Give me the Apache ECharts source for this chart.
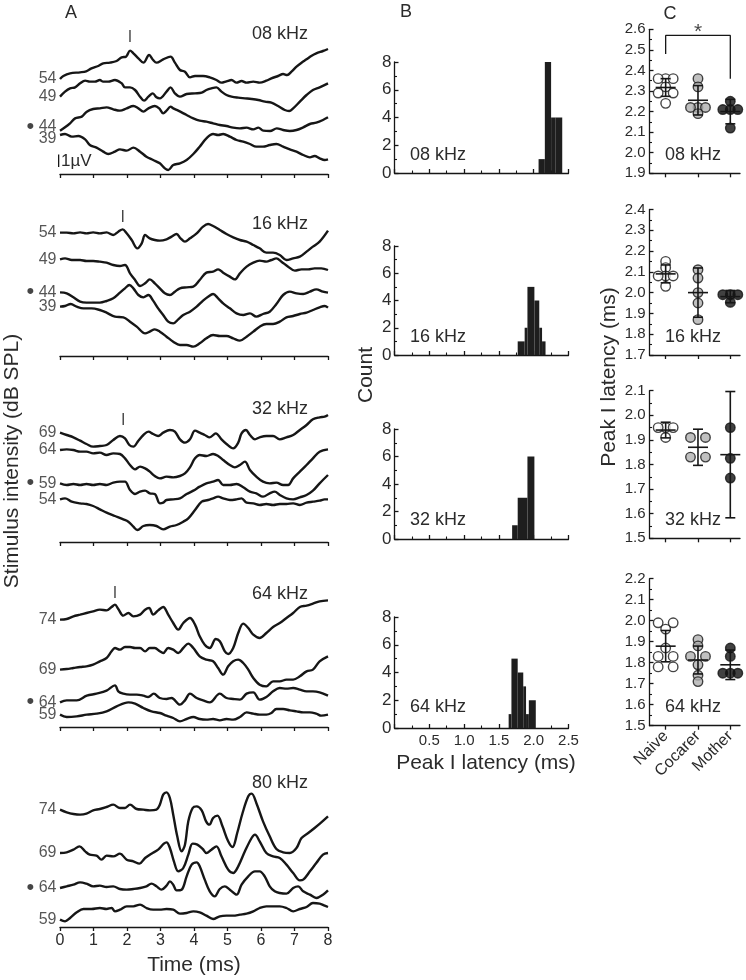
<!DOCTYPE html>
<html><head><meta charset="utf-8">
<script src="https://cdn.jsdelivr.net/npm/echarts@6/dist/echarts.min.js"></script>
<style>html,body{margin:0;padding:0;background:#fff}#c{width:746px;height:980px}</style>
</head><body><div id="c"></div><script>
const FONT = '"Liberation Sans", Arial, Helvetica, sans-serif';
const INK = '#161616';
const TXT = '#2b2b2b';

// ---------------- Panel A: ABR traces, [time (ms), amplitude units], 37.5 units = 1 uV ----------------
const UNITS_PER_UV = 37.5;
const a08_54 = [[0,285],[0.10,294],[0.30,302],[0.60,305],[0.78,308],[0.94,317],[1.14,324],[1.29,332],[1.49,334],[1.69,339],[1.84,350],[1.97,352],[2.09,370],[2.19,362],[2.34,347],[2.49,334],[2.66,357],[2.78,342],[2.88,334],[3.08,344],[3.30,352],[3.43,334],[3.58,312],[3.73,307],[3.88,290],[4.03,294],[4.27,294],[4.47,290],[4.67,282],[4.82,274],[4.97,278],[5.12,282],[5.27,274],[5.42,279],[5.57,274],[5.77,277],[5.96,274],[6.16,280],[6.31,287],[6.51,294],[6.66,300],[6.78,297],[6.91,307],[7.06,322],[7.21,334],[7.36,344],[7.50,354],[7.65,362],[7.85,369],[8.0,375]];
const a08_49 = [[0,232],[0.15,247],[0.30,257],[0.45,260],[0.60,272],[0.75,280],[0.89,277],[1.04,277],[1.19,282],[1.29,277],[1.44,277],[1.64,282],[1.84,272],[1.94,260],[2.09,260],[2.24,252],[2.39,232],[2.51,220],[2.64,232],[2.77,242],[2.88,230],[2.98,227],[3.18,247],[3.30,260],[3.43,242],[3.58,232],[3.78,240],[4.03,242],[4.23,244],[4.37,252],[4.52,257],[4.67,260],[4.82,247],[4.97,237],[5.12,232],[5.32,229],[5.52,227],[5.72,225],[5.92,222],[6.12,217],[6.31,214],[6.51,204],[6.71,192],[6.84,189],[6.96,197],[7.16,217],[7.36,237],[7.55,252],[7.75,260],[8.0,272]];
const a08_44 = [[0,130],[0.15,140],[0.30,152],[0.45,167],[0.65,172],[0.80,187],[0.99,195],[1.19,197],[1.39,200],[1.59,194],[1.79,190],[1.99,197],[2.19,204],[2.34,197],[2.49,187],[2.64,197],[2.83,204],[2.96,197],[3.08,182],[3.18,190],[3.30,202],[3.38,197],[3.53,190],[3.78,177],[3.98,167],[4.17,160],[4.37,157],[4.57,152],[4.77,147],[4.97,144],[5.17,139],[5.37,137],[5.57,139],[5.77,134],[5.92,139],[6.07,130],[6.27,129],[6.47,137],[6.66,132],[6.86,129],[7.06,132],[7.26,140],[7.46,150],[7.65,154],[7.85,162],[8.0,170]];
const a08_39 = [[0,117],[0.15,120],[0.35,112],[0.55,114],[0.75,104],[0.89,87],[1.09,79],[1.29,67],[1.44,60],[1.64,67],[1.79,74],[1.99,70],[2.19,79],[2.39,67],[2.58,52],[2.78,42],[2.98,32],[3.13,17],[3.23,12],[3.38,27],[3.58,32],[3.78,42],[3.98,60],[4.17,82],[4.37,107],[4.57,120],[4.72,117],[4.87,120],[5.07,112],[5.27,102],[5.47,97],[5.67,90],[5.86,82],[6.06,82],[6.26,87],[6.46,90],[6.66,82],[6.86,74],[7.06,67],[7.26,57],[7.46,50],[7.60,54],[7.75,47],[7.90,42],[8.0,44]];

const a16_54 = [[0,370],[0.20,370],[0.40,368],[0.60,371],[0.79,368],[0.99,371],[1.19,368],[1.39,371],[1.59,363],[1.74,373],[1.87,380],[1.99,368],[2.14,348],[2.31,323],[2.44,338],[2.54,363],[2.68,353],[2.83,348],[2.98,346],[3.18,350],[3.33,358],[3.48,366],[3.60,353],[3.73,343],[3.88,353],[4.08,368],[4.27,388],[4.42,396],[4.57,390],[4.77,378],[4.97,366],[5.17,356],[5.37,348],[5.57,343],[5.77,333],[5.96,323],[6.16,310],[6.36,310],[6.56,303],[6.76,288],[6.96,293],[7.16,298],[7.36,313],[7.55,328],[7.75,343],[8.0,376]];
const a16_49 = [[0,290],[0.15,293],[0.35,288],[0.60,288],[0.79,285],[0.99,285],[1.19,283],[1.39,280],[1.59,273],[1.79,270],[1.94,273],[2.09,248],[2.24,228],[2.39,210],[2.54,218],[2.68,230],[2.83,218],[2.98,203],[3.13,188],[3.28,183],[3.43,193],[3.58,203],[3.78,206],[3.98,208],[4.17,228],[4.37,250],[4.57,253],[4.72,260],[4.87,250],[5.07,238],[5.22,230],[5.37,248],[5.57,268],[5.77,280],[5.96,286],[6.16,283],[6.31,288],[6.46,293],[6.61,283],[6.81,268],[7.01,256],[7.21,260],[7.41,260],[7.60,263],[7.80,263],[8.0,258]];
const a16_44 = [[0,191],[0.20,188],[0.40,176],[0.60,163],[0.79,160],[0.99,160],[1.19,160],[1.39,165],[1.59,173],[1.79,190],[1.94,203],[2.07,213],[2.19,203],[2.34,183],[2.49,176],[2.64,183],[2.78,166],[2.93,143],[3.08,123],[3.23,103],[3.38,98],[3.53,110],[3.68,123],[3.88,133],[4.08,148],[4.27,166],[4.42,178],[4.57,186],[4.72,173],[4.87,158],[5.07,143],[5.27,128],[5.47,123],[5.67,128],[5.86,118],[6.06,126],[6.26,133],[6.46,156],[6.66,183],[6.86,193],[7.06,188],[7.26,186],[7.46,193],[7.65,200],[7.85,193],[8.0,190]];
const a16_39 = [[0,148],[0.15,150],[0.32,156],[0.50,148],[0.70,143],[0.94,143],[1.19,138],[1.39,130],[1.64,118],[1.89,116],[2.09,103],[2.29,88],[2.54,68],[2.68,73],[2.83,80],[2.98,73],[3.18,58],[3.38,43],[3.58,33],[3.78,33],[3.98,28],[4.17,38],[4.37,53],[4.57,63],[4.77,60],[4.97,60],[5.17,53],[5.37,46],[5.57,58],[5.77,73],[5.96,88],[6.16,96],[6.36,96],[6.56,103],[6.76,116],[6.96,120],[7.16,126],[7.36,130],[7.55,138],[7.75,146],[7.90,150],[8.0,145]];

const a32_69 = [[0,328],[0.20,321],[0.40,314],[0.60,304],[0.79,294],[0.99,286],[1.19,288],[1.39,291],[1.59,306],[1.79,318],[1.94,311],[2.07,291],[2.19,286],[2.34,304],[2.49,321],[2.64,331],[2.78,324],[2.93,318],[3.08,328],[3.28,336],[3.43,331],[3.58,308],[3.73,298],[3.88,308],[4.03,334],[4.17,328],[4.32,321],[4.47,314],[4.65,326],[4.82,308],[4.97,294],[5.17,281],[5.32,298],[5.42,326],[5.55,336],[5.67,321],[5.82,308],[5.96,314],[6.16,318],[6.36,318],[6.56,308],[6.76,314],[6.96,321],[7.16,336],[7.36,351],[7.55,368],[7.75,374],[7.90,376],[8.0,381]];
const a32_64 = [[0,276],[0.20,278],[0.40,276],[0.60,271],[0.79,271],[0.99,266],[1.19,268],[1.39,261],[1.59,266],[1.79,264],[1.94,251],[2.09,231],[2.24,218],[2.39,226],[2.54,221],[2.68,211],[2.83,198],[2.98,191],[3.18,196],[3.38,194],[3.58,198],[3.73,206],[3.88,224],[4.03,251],[4.17,261],[4.37,258],[4.57,264],[4.72,258],[4.87,246],[5.07,231],[5.22,224],[5.37,231],[5.52,241],[5.67,216],[5.86,196],[6.06,181],[6.26,176],[6.46,178],[6.66,171],[6.81,171],[6.96,191],[7.16,211],[7.36,231],[7.55,251],[7.75,271],[8.0,278]];
const a32_59 = [[0,176],[0.20,171],[0.40,174],[0.60,171],[0.79,174],[0.99,171],[1.19,174],[1.39,171],[1.59,178],[1.79,181],[1.94,181],[2.09,156],[2.24,144],[2.39,151],[2.54,154],[2.68,146],[2.83,144],[2.98,116],[3.08,118],[3.18,126],[3.38,128],[3.58,131],[3.78,144],[3.98,154],[4.17,166],[4.37,176],[4.57,181],[4.72,186],[4.87,171],[5.07,171],[5.27,174],[5.47,164],[5.67,151],[5.86,146],[6.06,136],[6.26,146],[6.41,151],[6.56,141],[6.76,131],[6.96,128],[7.16,134],[7.36,141],[7.55,154],[7.75,176],[8.0,201]];
const a32_54 = [[0,128],[0.15,131],[0.35,121],[0.60,116],[0.79,114],[0.99,108],[1.19,98],[1.39,88],[1.64,78],[1.89,68],[2.04,61],[2.19,46],[2.31,36],[2.49,48],[2.68,51],[2.88,48],[3.08,38],[3.28,46],[3.48,51],[3.68,61],[3.83,71],[4.03,96],[4.23,121],[4.42,126],[4.57,131],[4.72,136],[4.87,131],[5.07,126],[5.27,128],[5.42,131],[5.57,118],[5.77,116],[5.96,111],[6.16,114],[6.36,111],[6.56,114],[6.76,114],[6.96,116],[7.16,111],[7.36,118],[7.55,121],[7.75,124],[7.90,128],[8.0,128]];

const a64_74 = [[0,322],[0.20,324],[0.40,332],[0.60,337],[0.79,342],[0.99,347],[1.19,352],[1.39,350],[1.54,360],[1.64,367],[1.74,354],[1.89,334],[2.04,342],[2.19,332],[2.39,337],[2.54,352],[2.66,357],[2.78,337],[2.93,350],[3.08,360],[3.23,337],[3.38,312],[3.53,292],[3.68,312],[3.88,327],[4.03,307],[4.17,272],[4.32,247],[4.47,237],[4.65,264],[4.77,257],[4.92,227],[5.02,219],[5.17,237],[5.32,282],[5.47,310],[5.62,297],[5.77,277],[5.96,267],[6.16,282],[6.36,300],[6.56,312],[6.76,327],[6.96,342],[7.16,360],[7.36,364],[7.55,370],[7.75,377],[8.0,380]];
const a64_69 = [[0,172],[0.20,174],[0.40,177],[0.60,180],[0.79,182],[0.99,187],[1.19,197],[1.39,207],[1.54,227],[1.64,237],[1.79,232],[1.94,240],[2.09,240],[2.24,237],[2.39,237],[2.54,227],[2.68,237],[2.83,237],[2.98,227],[3.08,222],[3.23,237],[3.38,232],[3.53,222],[3.68,237],[3.83,250],[3.98,237],[4.17,212],[4.37,202],[4.57,197],[4.72,177],[4.87,157],[5.02,182],[5.17,197],[5.32,202],[5.47,192],[5.62,172],[5.77,147],[5.96,127],[6.16,122],[6.36,137],[6.56,137],[6.76,142],[6.96,142],[7.16,152],[7.36,167],[7.55,172],[7.75,197],[8.0,212]];
const a64_64 = [[0,74],[0.20,80],[0.50,80],[0.80,94],[1.09,100],[1.39,109],[1.64,125],[1.74,107],[1.89,100],[2.09,97],[2.29,97],[2.49,94],[2.63,90],[2.80,100],[2.98,87],[3.18,84],[3.33,87],[3.58,67],[3.73,80],[3.88,100],[4.08,87],[4.27,80],[4.47,74],[4.77,100],[4.97,87],[5.17,84],[5.37,82],[5.57,100],[5.77,104],[5.96,82],[6.16,90],[6.36,107],[6.56,117],[6.76,115],[6.96,117],[7.16,112],[7.36,107],[7.55,107],[7.75,104],[8.0,94]];
const a64_59 = [[0,37],[0.20,30],[0.50,32],[0.80,37],[1.09,40],[1.39,47],[1.69,62],[2.04,74],[2.24,70],[2.49,57],[2.73,47],[2.98,42],[3.18,34],[3.38,27],[3.58,17],[3.78,24],[3.98,30],[4.17,24],[4.37,22],[4.57,24],[4.77,20],[4.97,24],[5.17,22],[5.37,30],[5.57,44],[5.77,40],[5.96,37],[6.16,37],[6.31,42],[6.46,54],[6.66,54],[6.86,50],[7.06,47],[7.26,44],[7.46,44],[7.65,40],[7.80,34],[8.0,37]];

const a80_74 = [[0,352],[0.20,344],[0.40,339],[0.60,337],[0.79,340],[0.99,350],[1.19,354],[1.39,360],[1.59,367],[1.79,357],[1.94,357],[2.09,367],[2.29,354],[2.49,352],[2.68,350],[2.88,352],[2.98,367],[3.08,397],[3.18,404],[3.28,387],[3.38,337],[3.50,272],[3.63,227],[3.73,247],[3.83,317],[3.96,357],[4.08,362],[4.23,350],[4.36,317],[4.46,307],[4.57,327],[4.70,334],[4.85,302],[5.02,257],[5.15,240],[5.29,282],[5.45,342],[5.62,392],[5.72,400],[5.86,372],[6.06,317],[6.26,272],[6.46,234],[6.66,224],[6.86,222],[7.06,237],[7.21,267],[7.41,282],[7.60,297],[7.80,314],[8.0,332]];
const a80_69 = [[0,222],[0.20,224],[0.40,232],[0.58,242],[0.75,227],[0.89,217],[1.09,214],[1.24,202],[1.39,214],[1.59,212],[1.79,220],[1.99,202],[2.19,197],[2.37,190],[2.54,207],[2.73,220],[2.93,232],[3.10,250],[3.18,254],[3.28,237],[3.40,197],[3.53,167],[3.68,177],[3.83,217],[3.96,250],[4.10,247],[4.26,234],[4.37,222],[4.52,232],[4.67,242],[4.82,212],[5.02,172],[5.17,162],[5.32,182],[5.52,227],[5.72,267],[5.82,277],[5.96,257],[6.16,222],[6.36,212],[6.56,207],[6.76,187],[6.96,162],[7.16,140],[7.26,142],[7.46,167],[7.65,192],[7.85,217],[8.0,222]];
const a80_64 = [[0,117],[0.20,122],[0.40,127],[0.60,134],[0.79,130],[0.99,122],[1.19,124],[1.39,120],[1.59,122],[1.79,114],[1.99,112],[2.19,114],[2.39,117],[2.58,122],[2.73,130],[2.88,122],[3.03,112],[3.18,124],[3.28,137],[3.38,127],[3.48,110],[3.63,112],[3.78,152],[3.93,187],[4.08,194],[4.17,182],[4.32,142],[4.47,107],[4.62,92],[4.77,114],[4.92,122],[5.07,112],[5.27,97],[5.42,127],[5.62,152],[5.82,167],[5.96,167],[6.11,152],[6.26,122],[6.41,107],[6.56,102],[6.76,100],[6.96,117],[7.11,122],[7.26,107],[7.46,97],[7.65,87],[7.85,97],[8.0,110]];
const a80_59 = [[0,22],[0.15,17],[0.30,27],[0.50,44],[0.70,54],[0.94,54],[1.19,57],[1.39,54],[1.54,57],[1.64,47],[1.79,52],[1.99,62],[2.19,62],[2.39,67],[2.58,57],[2.78,52],[2.98,52],[3.18,54],[3.38,52],[3.58,40],[3.78,42],[3.98,47],[4.17,44],[4.37,34],[4.57,24],[4.77,32],[4.97,34],[5.17,34],[5.37,37],[5.57,40],[5.77,47],[5.96,57],[6.16,62],[6.36,62],[6.56,62],[6.76,57],[6.96,47],[7.16,54],[7.36,60],[7.55,72],[7.75,70],[7.90,64],[8.0,60]];

const freqLabels = ['08 kHz', '16 kHz', '32 kHz', '64 kHz', '80 kHz'];
const levels08 = ['54', '49', '44', '39'];
const levels16 = ['54', '49', '44', '39'];
const levels32 = ['69', '64', '59', '54'];
const levels64 = ['74', '69', '64', '59'];
const levels80 = ['74', '69', '64', '59'];
const thresholdIndex = 2; // level marked with a dot (threshold)
const peakIMarks = [[2.09, 409], [1.87, 414], [1.89, 363], [1.64, 400]]; // "I" annotation, [ms, units]

// ---------------- Panel B: histograms of peak I latency, [bin start, bin end, count] ----------------
const hist08 = [[2.07, 2.16, 1], [2.16, 2.25, 8], [2.25, 2.31, 4], [2.31, 2.41, 4]];
const hist16 = [[1.77, 1.87, 1], [1.87, 1.91, 2], [1.91, 2.01, 5], [2.01, 2.08, 4], [2.08, 2.12, 2], [2.12, 2.17, 1]];
const hist32 = [[1.69, 1.77, 1], [1.77, 1.91, 3], [1.91, 2.01, 6]];
const hist64 = [[1.64, 1.68, 1], [1.68, 1.77, 5], [1.77, 1.85, 4], [1.85, 1.89, 3], [1.89, 1.93, 1], [1.93, 2.03, 2]];

// ---------------- Panel C: peak I latency per group (ms) ----------------
const groups = ['Naive', 'Cocarer', 'Mother'];
const naive08 = [2.36, 2.36, 2.36, 2.32, 2.29, 2.29, 2.24];
const cocarer08 = [2.36, 2.32, 2.22, 2.22, 2.22, 2.19];
const mother08 = [2.25, 2.21, 2.21, 2.21, 2.12];
const naive16 = [2.15, 2.12, 2.08, 2.08, 2.08, 2.03];
const cocarer16 = [2.11, 2.07, 2.00, 1.95, 1.87];
const mother16 = [1.99, 1.99, 1.99, 1.953];
const naive32 = [1.95, 1.95, 1.95, 1.91];
const cocarer32 = [1.91, 1.91, 1.83, 1.83];
const mother32 = [1.95, 1.825, 1.745];
const naive64 = [1.99, 1.99, 1.96, 1.87, 1.83, 1.83, 1.78, 1.78];
const cocarer64 = [1.91, 1.88, 1.83, 1.83, 1.79, 1.74, 1.71];
const mother64 = [1.87, 1.83, 1.75, 1.75, 1.75];
const cRanges = [[1.9, 2.6], [1.7, 2.4], [1.5, 2.1], [1.5, 2.2]];
const sigBracket08 = [[1, 2.48], [1, 2.57], [3, 2.57], [3, 2.36]];
const T95 = [12.706, 4.303, 3.182, 2.776, 2.571, 2.447, 2.365, 2.306, 2.262, 2.228];

// ---------------- layout ----------------
const A_LEFT = 60, A_WIDTH = 268, A_H = 140, A_TOPS = [34, 216, 402, 587, 787];
const A_LABEL_NUDGE = [[0, 0, -4, 4], [0, 0, 0, 0], [0, 0, 0, 0], [0, 0, 0, 0], [0, 0, 0, 0]];
const B_LEFT = 394.5, B_WIDTH = 174, B_TOPS = [62, 246, 429, 617], B_HS = [111, 109, 110, 111];
const C_LEFT = 649.5, C_WIDTH = 90.5, C_TOPS = [29.3, 209.4, 390.7, 578.7], C_HS = [144, 145.6, 147.6, 147];
const C_PX_PER_X = C_WIDTH / 2.8;
const SWARM_STEP = 7.5 / C_PX_PER_X;

const panelsA = [
  {traces: [a08_54, a08_49, a08_44, a08_39], levels: levels08},
  {traces: [a16_54, a16_49, a16_44, a16_39], levels: levels16},
  {traces: [a32_69, a32_64, a32_59, a32_54], levels: levels32},
  {traces: [a64_74, a64_69, a64_64, a64_59], levels: levels64},
  {traces: [a80_74, a80_69, a80_64, a80_59], levels: levels80}
];
const histsB = [hist08, hist16, hist32, hist64];
const groupsC = [[naive08, cocarer08, mother08], [naive16, cocarer16, mother16], [naive32, cocarer32, mother32], [naive64, cocarer64, mother64]];

const axisLineStyle = {color: INK, width: 1.3};
const grid = [], xAxis = [], yAxis = [], series = [];

// Panel A
panelsA.forEach((p, i) => {
  grid.push({left: A_LEFT, top: A_TOPS[i], width: A_WIDTH, height: A_H});
  xAxis.push({gridIndex: grid.length - 1, type: 'value', min: 0, max: 8, interval: 1,
    axisLine: {show: true, onZero: false, lineStyle: axisLineStyle},
    axisTick: {show: true, length: 4, lineStyle: axisLineStyle},
    axisLabel: {show: i === 4, fontSize: 16, color: TXT, fontFamily: FONT, margin: 6},
    splitLine: {show: false}});
  yAxis.push({gridIndex: grid.length - 1, type: 'value', min: 0, max: A_H * 3, show: false, splitLine: {show: false}});
  const ai = grid.length - 1;
  p.traces.forEach(tr => {
    series.push({type: 'line', xAxisIndex: ai, yAxisIndex: ai, data: tr, showSymbol: false, smooth: 0.35,
      lineStyle: {color: INK, width: 2.4}, silent: true, z: 2});
  });
  series.push({type: 'scatter', xAxisIndex: ai, yAxisIndex: ai, symbolSize: 1, itemStyle: {color: 'rgba(0,0,0,0)'},
    data: p.traces.map((tr, k) => ({value: [tr[0][0], tr[0][1]], name: p.levels[k],
      label: {offset: [0, A_LABEL_NUDGE[i][k]]}})),
    label: {show: true, position: 'left', distance: 3, fontSize: 16, color: TXT, fontFamily: FONT,
      formatter: q => q.dataIndex === thresholdIndex ? '{d|\u2022} ' + q.name : q.name,
      rich: {d: {fontSize: 22, color: INK, fontFamily: FONT, verticalAlign: 'middle'}}},
    silent: true});
  if (i < 4) {
    series.push({type: 'scatter', xAxisIndex: ai, yAxisIndex: ai, symbolSize: 1, itemStyle: {color: 'rgba(0,0,0,0)'},
      data: [peakIMarks[i]],
      label: {show: true, position: 'inside', formatter: 'I', fontSize: 16, color: INK, fontFamily: FONT},
      silent: true});
  }
  if (i === 0) {
    series.push({type: 'line', xAxisIndex: ai, yAxisIndex: ai, clip: false, showSymbol: false,
      data: [[-0.06, 21], [-0.06, 21 + UNITS_PER_UV]], lineStyle: {color: INK, width: 2.6}, silent: true});
  }
});

// Panel B
histsB.forEach((h, i) => {
  grid.push({left: B_LEFT, top: B_TOPS[i], width: B_WIDTH, height: B_HS[i]});
  const bi = grid.length - 1;
  xAxis.push({gridIndex: bi, type: 'value', min: 0, max: 2.5, interval: 0.5,
    axisLine: {show: true, onZero: false, lineStyle: axisLineStyle},
    axisTick: {show: true, inside: true, length: 4, lineStyle: axisLineStyle},
    minorTick: {show: true, splitNumber: 2, length: 2.5, lineStyle: {color: INK, width: 1.1}},
    axisLabel: {show: i === 3, fontSize: 15, color: TXT, fontFamily: FONT, margin: 5,
      formatter: v => v === 0 ? '' : v.toFixed(1)},
    splitLine: {show: false}, minorSplitLine: {show: false}});
  yAxis.push({gridIndex: bi, type: 'value', min: 0, max: 8, interval: 2,
    axisLine: {show: true, onZero: false, lineStyle: axisLineStyle},
    axisTick: {show: true, inside: true, length: 4, lineStyle: axisLineStyle},
    minorTick: {show: true, splitNumber: 2, length: 2.5, lineStyle: {color: INK, width: 1.1}},
    axisLabel: {fontSize: 17, color: TXT, fontFamily: FONT, margin: 3},
    splitLine: {show: false}});
  series.push({type: 'custom', xAxisIndex: bi, yAxisIndex: bi, data: h, encode: {x: [0, 1], y: 2}, silent: true,
    renderItem: (params, api) => {
      const p0 = api.coord([api.value(0), api.value(2)]);
      const p1 = api.coord([api.value(1), 0]);
      return {type: 'rect', shape: {x: p0[0], y: p0[1], width: p1[0] - p0[0], height: p1[1] - p0[1]},
        style: {fill: '#1e1e1e'}};
    }});
});

// Panel C helpers
function rowOffsets(values) {
  const counts = {}, seen = {};
  values.forEach(v => { counts[v] = (counts[v] || 0) + 1; });
  return values.map(v => {
    const n = counts[v];
    const k = seen[v] = (seen[v] === undefined ? 0 : seen[v] + 1);
    const slots = n % 2 === 1 ? [0, -1, 1, -2, 2, -3, 3] : [-1, 1, -2, 2, -3, 3];
    return slots[k] * SWARM_STEP;
  });
}
function meanCI(values) {
  const n = values.length;
  const m = values.reduce((a, b) => a + b, 0) / n;
  const sd = Math.sqrt(values.reduce((a, b) => a + (b - m) * (b - m), 0) / (n - 1));
  const h = T95[n - 2] * sd / Math.sqrt(n);
  return [m, m - h, m + h];
}
const groupStyles = [
  {color: '#ffffff', borderColor: INK, borderWidth: 1.4},
  {color: '#b0b0b0', borderColor: INK, borderWidth: 1.4},
  {color: '#111111', borderColor: '#111111', borderWidth: 1.4}
];

groupsC.forEach((gs, i) => {
  grid.push({left: C_LEFT, top: C_TOPS[i], width: C_WIDTH, height: C_HS[i]});
  const ci = grid.length - 1;
  xAxis.push({gridIndex: ci, type: 'value', min: 0.5, max: 3.3,
    axisLine: {show: true, onZero: false, lineStyle: axisLineStyle},
    axisTick: {show: true, length: 4, customValues: [1, 2, 3], lineStyle: axisLineStyle},
    axisLabel: {show: i === 3, customValues: [1, 2, 3], rotate: 45, fontSize: 16, color: TXT, fontFamily: FONT, margin: 8,
      formatter: v => groups[Math.round(v) - 1]},
    splitLine: {show: false}});
  yAxis.push({gridIndex: ci, type: 'value', min: cRanges[i][0], max: cRanges[i][1], interval: 0.1,
    axisLine: {show: true, onZero: false, lineStyle: axisLineStyle},
    axisTick: {show: true, inside: true, length: 4, lineStyle: axisLineStyle},
    minorTick: {show: true, splitNumber: 2, length: 2.5, lineStyle: {color: INK, width: 1.1}},
    axisLabel: {fontSize: 15, color: TXT, fontFamily: FONT, margin: 4, formatter: v => v.toFixed(1)},
    splitLine: {show: false}});
  const bars = [];
  gs.forEach((vals, g) => {
    const offs = rowOffsets(vals);
    series.push({type: 'scatter', xAxisIndex: ci, yAxisIndex: ci, symbol: 'circle', symbolSize: 9.5,
      itemStyle: groupStyles[g], data: vals.map((v, k) => [g + 1 + offs[k], v]), z: 2, silent: true});
    const s = meanCI(vals);
    bars.push([g + 1, s[0], s[1], s[2]]);
  });
  series.push({type: 'custom', xAxisIndex: ci, yAxisIndex: ci, data: bars, encode: {x: 0, y: [1, 2, 3]}, clip: false, z: 3, silent: true,
    renderItem: (params, api) => {
      const x = api.value(0);
      const pm = api.coord([x, api.value(1)]), pl = api.coord([x, api.value(2)]), ph = api.coord([x, api.value(3)]);
      const st = {stroke: INK, lineWidth: 1.6};
      return {type: 'group', children: [
        {type: 'line', shape: {x1: pm[0] - 10, y1: pm[1], x2: pm[0] + 10, y2: pm[1]}, style: st},
        {type: 'line', shape: {x1: pl[0], y1: pl[1], x2: ph[0], y2: ph[1]}, style: st},
        {type: 'line', shape: {x1: pl[0] - 5, y1: pl[1], x2: pl[0] + 5, y2: pl[1]}, style: st},
        {type: 'line', shape: {x1: ph[0] - 5, y1: ph[1], x2: ph[0] + 5, y2: ph[1]}, style: st}
      ]};
    }});
  if (i === 0) {
    series.push({type: 'line', xAxisIndex: ci, yAxisIndex: ci, data: sigBracket08, showSymbol: false, clip: false,
      lineStyle: {color: INK, width: 1.3}, silent: true});
    series.push({type: 'scatter', xAxisIndex: ci, yAxisIndex: ci, symbolSize: 1, itemStyle: {color: 'rgba(0,0,0,0)'},
      data: [[2, sigBracket08[1][1]]], clip: false, silent: true,
      label: {show: true, position: 'inside', offset: [0, -3], formatter: '*', fontSize: 21, color: INK, fontFamily: FONT}});
  }
});

// text elements
const t = (text, x, y, size, opts) => Object.assign({type: 'text', x: x, y: y,
  style: Object.assign({text: text, font: size + 'px ' + FONT, fill: TXT, align: 'center', verticalAlign: 'middle'}, (opts && opts.style) || {})},
  opts && opts.rotation ? {rotation: opts.rotation} : {});
const graphic = [
  t('A', 71, 13, 18), t('B', 406, 12, 18), t('C', 670, 14, 18),
  t('1\u00b5V', 61, 161, 17, {style: {align: 'left'}}),
  t('Time (ms)', 194, 965, 21),
  t('Stimulus intensity (dB SPL)', 12, 461, 21, {rotation: Math.PI / 2}),
  t('Count', 366, 375, 21, {rotation: Math.PI / 2}),
  t('Peak I latency (ms)', 486, 763, 21),
  t('Peak I latency (ms)', 609, 377, 21, {rotation: Math.PI / 2})
];
[34, 224, 409, 594, 783].forEach((y, i) => graphic.push(t(freqLabels[i], 308, y, 18, {style: {align: 'right'}})));
[155, 337, 520, 707].forEach((y, i) => graphic.push(t(freqLabels[i], 410, y, 18, {style: {align: 'left'}})));
[155, 337, 520, 707].forEach((y, i) => graphic.push(t(freqLabels[i], 693, y, 18)));

const chart = echarts.init(document.getElementById('c'), null, {renderer: 'canvas'});
chart.setOption({animation: false, backgroundColor: '#ffffff', grid: grid, xAxis: xAxis, yAxis: yAxis, series: series, graphic: graphic,
  textStyle: {fontFamily: FONT}});
</script></body></html>
